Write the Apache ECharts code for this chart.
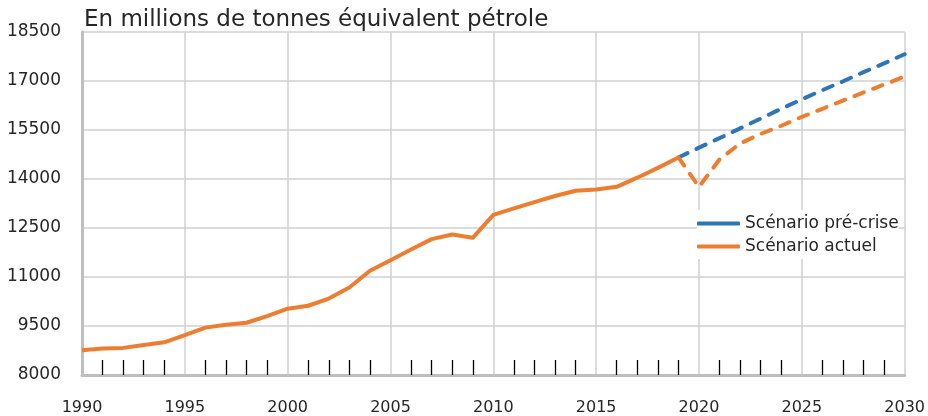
<!DOCTYPE html>
<html lang="fr">
<head>
    <meta charset="UTF-8">
    <title>echarts</title>
    <script src="https://cdn.jsdelivr.net/npm/echarts@6/dist/echarts.min.js"></script>
    <style>
        html, body { margin: 0; padding: 0; background: #fff; }
        #main { width: 928px; height: 416px; }
    </style>
</head>
<body>
<div id="main"></div>
<script>
    // historique 1990-2019
    var histYears = [1990, 1991, 1992, 1993, 1994, 1995, 1996, 1997, 1998, 1999,
        2000, 2001, 2002, 2003, 2004, 2005, 2006, 2007, 2008, 2009,
        2010, 2011, 2012, 2013, 2014, 2015, 2016, 2017, 2018, 2019];
    var histValues = [8760, 8810, 8830, 8920, 9000, 9220, 9450, 9540, 9600, 9800,
        10030, 10120, 10340, 10680, 11190, 11510, 11840, 12160, 12300, 12200,
        12900, 13100, 13290, 13480, 13640, 13680, 13760, 14040, 14340, 14660];

    // projections 2019-2030
    var projYears = [2019, 2020, 2021, 2022, 2023, 2024, 2025, 2026, 2027, 2028, 2029, 2030];
    var preCrise = [14660, 14960, 15250, 15550, 15850, 16150, 16440, 16720, 16990, 17270, 17540, 17820];
    var actuel = [14660, 13760, 14600, 15090, 15380, 15630, 15900, 16150, 16400, 16650, 16890, 17140];

    var blue = '#2E75B6';
    var orange = '#ED7D31';
    var font = 'DejaVu Sans';

    function pairs(xs, ys) {
        return xs.map(function (x, i) { return [x, ys[i]]; });
    }
    function plain(v) { return String(v); }

    var myChart = echarts.init(document.getElementById('main'));
    myChart.setOption({
        animation: false,
        textStyle: { fontFamily: font },
        title: {
            text: 'En millions de tonnes équivalent pétrole',
            left: 84, top: 9, padding: 0,
            textStyle: { fontFamily: font, fontSize: 23, fontWeight: 'normal', color: '#262626' }
        },
        legend: {
            data: ['Scénario pré-crise', 'Scénario actuel'],
            orient: 'vertical',
            left: 697, top: 210,
            padding: [5, 0, 4, 0],
            backgroundColor: '#fff',
            icon: 'roundRect',
            itemWidth: 43, itemHeight: 4, itemGap: 6,
            textStyle: { fontFamily: font, fontSize: 17, color: '#262626' }
        },
        grid: { left: 82, right: 23, top: 32, bottom: 41 },
        xAxis: {
            type: 'value',
            min: 1990, max: 2030, interval: 5,
            axisLine: { lineStyle: { color: '#BFBFBF', width: 3 } },
            axisTick: { show: false, inside: true },
            minorTick: { show: true, splitNumber: 5, length: 15, lineStyle: { color: '#000', width: 1.3 } },
            axisLabel: { fontFamily: font, fontSize: 16, color: '#262626', margin: 25, formatter: plain },
            splitLine: { show: true, lineStyle: { color: '#D0D0D0', width: 1.5 } }
        },
        yAxis: {
            type: 'value',
            min: 8000, max: 18500, interval: 1500,
            axisLine: { show: true, lineStyle: { color: '#BFBFBF', width: 3 } },
            axisTick: { show: false },
            axisLabel: { fontFamily: font, fontSize: 17, color: '#262626', margin: 21, formatter: plain },
            splitLine: { lineStyle: { color: '#D0D0D0', width: 1.5 } }
        },
        series: [
            {
                name: 'Scénario pré-crise', type: 'line', symbol: 'none', z: 2,
                data: pairs(projYears, preCrise),
                lineStyle: { color: blue, width: 4, type: [10, 10], cap: 'round' },
                itemStyle: { color: blue }
            },
            {
                name: 'Scénario actuel', type: 'line', symbol: 'none', z: 3,
                data: pairs(projYears, actuel),
                lineStyle: { color: orange, width: 4, type: [10, 10], cap: 'round' },
                itemStyle: { color: orange }
            },
            {
                name: 'Historique', type: 'line', symbol: 'none', z: 4,
                data: pairs(histYears, histValues),
                lineStyle: { color: orange, width: 4, join: 'round' },
                itemStyle: { color: orange }
            }
        ]
    });
</script>
</body>
</html>
